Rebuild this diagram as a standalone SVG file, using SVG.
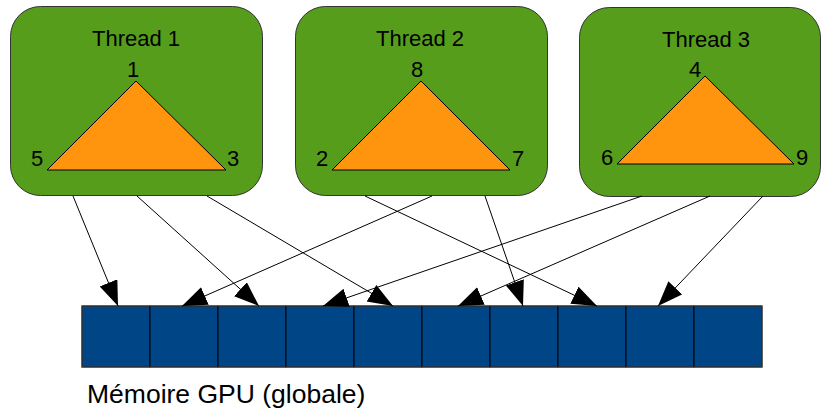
<svg xmlns="http://www.w3.org/2000/svg" width="821" height="411" viewBox="0 0 821 411">
<style>
.box{fill:#579d1c;stroke:#333;stroke-width:1}
.tri{fill:#ff950e;stroke:#000;stroke-width:1}
.cell{fill:#004586;stroke:#000;stroke-width:1}
text{font-family:"Liberation Sans",Arial,sans-serif;fill:#000}
.t{font-size:22px;text-anchor:middle}
.n{font-size:22px}
.c{fill:none;stroke:#000;stroke-width:1;marker-end:url(#ah)}
</style>
<defs>
<marker id="ah" markerUnits="userSpaceOnUse" markerWidth="26" markerHeight="20" refX="25" refY="9.5" orient="auto">
<path d="M0,0 L25,9.5 L0,19 z" fill="#000"/>
</marker>
</defs>
<g id="thread1">
<rect class="box" x="10.5" y="6.5" width="252" height="189" rx="30"/>
<text class="t" x="136" y="46">Thread 1</text>
<polygon class="tri" points="136,81 47,170 226,170"/>
<text class="n" x="127" y="77">1</text>
<text class="n" x="31" y="166">5</text>
<text class="n" x="227" y="166">3</text>
</g>
<g id="thread2">
<rect class="box" x="295.5" y="6.5" width="252" height="189" rx="30"/>
<text class="t" x="420" y="46">Thread 2</text>
<polygon class="tri" points="421,81 332,170 510,170"/>
<text class="n" x="411" y="77">8</text>
<text class="n" x="316" y="166">2</text>
<text class="n" x="512" y="166">7</text>
</g>
<g id="thread3">
<rect class="box" x="579.5" y="7.5" width="241" height="189" rx="30"/>
<text class="t" x="706" y="47">Thread 3</text>
<polygon class="tri" points="705,76 617,164 794,164"/>
<text class="n" x="689" y="77">4</text>
<text class="n" x="601" y="165">6</text>
<text class="n" x="796" y="165">9</text>
</g>
<g id="memory">
<rect class="cell" x="82" y="306" width="68" height="61"/>
<rect class="cell" x="150" y="306" width="68" height="61"/>
<rect class="cell" x="218" y="306" width="68" height="61"/>
<rect class="cell" x="286" y="306" width="68" height="61"/>
<rect class="cell" x="354" y="306" width="68" height="61"/>
<rect class="cell" x="422" y="306" width="68" height="61"/>
<rect class="cell" x="490" y="306" width="68" height="61"/>
<rect class="cell" x="558" y="306" width="68" height="61"/>
<rect class="cell" x="626" y="306" width="68" height="61"/>
<rect class="cell" x="694" y="306" width="68" height="61"/>
<rect x="82" y="306" width="680" height="61" fill="none" stroke="#444" stroke-width="1"/>
<text x="87" y="403" style="font-size:26.5px">Mémoire GPU (globale)</text>
</g>
<g id="connectors">
<line class="c" x1="73" y1="196" x2="118" y2="306"/>
<line class="c" x1="137" y1="196" x2="259" y2="306"/>
<line class="c" x1="207" y1="196" x2="393" y2="306"/>
<line class="c" x1="432" y1="196" x2="182" y2="306"/>
<line class="c" x1="365" y1="196" x2="597" y2="306"/>
<line class="c" x1="485" y1="196" x2="523" y2="306"/>
<line class="c" x1="642" y1="196" x2="323" y2="306"/>
<line class="c" x1="710" y1="196" x2="458" y2="306"/>
<line class="c" x1="763" y1="196" x2="658" y2="306"/>
</g>
</svg>
